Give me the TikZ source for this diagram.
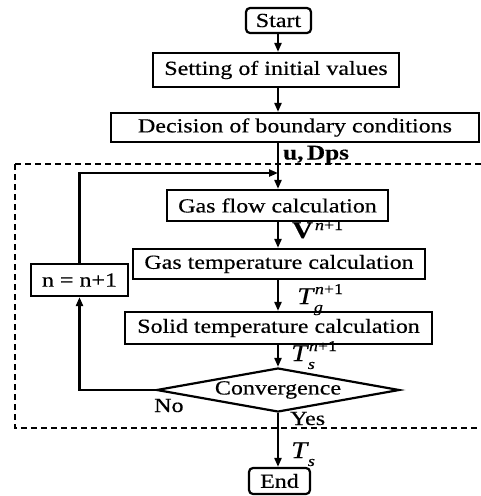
\documentclass[tikz,border=0pt]{standalone}
\usepackage{fontspec}
\setmainfont{Liberation Serif}[FakeStretch=1.2,FakeBold=0.4]
\usetikzlibrary{arrows.meta,shapes.geometric}
\newcommand{\scr}{\fontsize{15}{15}\selectfont\mdseries\upshape}
\newcommand{\symlab}[3]{{\fontsize{24}{24}\selectfont\itshape #1\/}\raisebox{-8pt}{\scr\begin{tabular}[b]{@{}l@{}}#2\\[3pt]\hspace{-1pt}\itshape #3\end{tabular}}}
\begin{document}
\begin{tikzpicture}[x=1pt,y=-1pt,
 txt/.style={font=\fontsize{20}{22}\selectfont},
 box/.style={draw,line width=2.2pt,inner sep=0pt,txt},
 term/.style={box,rounded corners=4pt},
 dec/.style={draw,line width=2.2pt,diamond,aspect=5.5,inner sep=0pt,txt},
 arr/.style={line width=2.2pt,-{Triangle[length=9pt,width=7pt]}},
 lab/.style={txt, anchor=base west, inner sep=0pt},
 dsh/.style={line width=1.3pt,dash pattern=on 6pt off 4pt}]
\useasboundingbox (0,0) rectangle (481,496);
\draw[dsh] (15,164) -- (490,164) (15,164) -- (15,428) -- (490,428);
\node[term,minimum width=65pt,minimum height=25pt] (start) at (278.5,20.5) {Start};
\node[box,minimum width=246pt,minimum height=34pt] (set) at (276,70) {Setting of initial values};
\node[box,minimum width=368pt,minimum height=29pt] (bc) at (295,127.5) {Decision of boundary conditions};
\node[box,minimum width=221pt,minimum height=31pt] (gf) at (277.5,205.5) {Gas flow calculation};
\node[box,minimum width=292pt,minimum height=30pt] (gt) at (279,264) {Gas temperature calculation};
\node[box,minimum width=97pt,minimum height=32pt] (nn) at (79.5,280) {n = n+1};
\node[box,minimum width=307pt,minimum height=32pt] (st) at (278.5,328) {Solid temperature calculation};
\node[dec,minimum width=243pt,minimum height=44pt] (cv) at (278,390) {Convergence};
\node[term,minimum width=61pt,minimum height=26pt] (end) at (279.5,481) {End};
\coordinate (j) at (278,173);
\draw[arr] (start.south -| 278,0) -- (set.north -| 278,0);
\draw[arr] (set.south -| 278,0) -- (bc.north -| 278,0);
\draw[arr] (bc.south -| 278,0) -- (gf.north -| 278,0);
\draw[arr] (nn.north) |- (j);
\draw[arr] (gf.south -| 278,0) -- (gt.north -| 278,0);
\draw[arr] (gt.south -| 278,0) -- (st.north -| 278,0);
\draw[arr] (st.south -| 278,0) -- (cv.north);
\draw[arr] (cv.west) -| (nn.south);
\draw[arr] (cv.south) -- (end.north -| 278,0);
\node[lab,font=\fontsize{21}{22}\selectfont\bfseries] (l1) at (283,159.5) {u,\,Dps};
\node[lab] (l2) at (292,238) {\fontsize{24}{24}\selectfont\bfseries V\hspace{2pt}\raisebox{8pt}{\scr\itshape n\upshape +1}};
\node[lab] (l3) at (297,304) {\symlab{T}{\itshape n\upshape +1}{g}};
\node[lab] (l4) at (291,361) {\symlab{T}{\itshape n\upshape +1}{s}};
\node[lab] (l5) at (291,458) {\symlab{T}{}{s}};
\node[lab] (no) at (154,412) {No};
\node[lab] (yes) at (290,425) {Yes};
\end{tikzpicture}
\end{document}
